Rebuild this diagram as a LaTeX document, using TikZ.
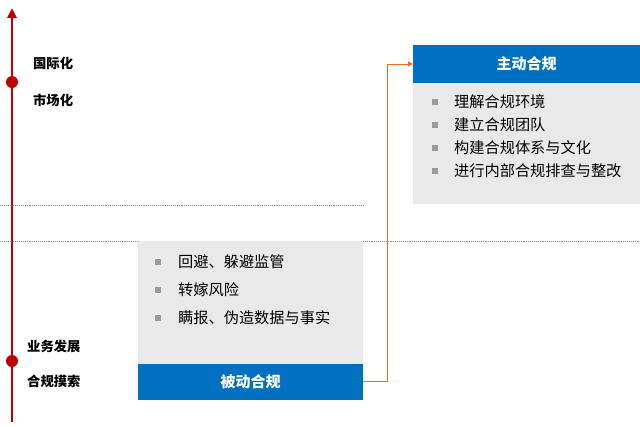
\documentclass[tikz,border=0pt]{standalone}
\usepackage{fontspec}
\setmainfont{Noto Sans CJK SC}
\usetikzlibrary{arrows.meta}
\definecolor{hdrblue}{HTML}{0070C0}
\definecolor{boxgray}{HTML}{E9E9E9}
\definecolor{axisred}{HTML}{C00000}
\definecolor{conorange}{HTML}{F26B21}
\definecolor{dotline}{HTML}{7F86C0}
\definecolor{bulletgray}{HTML}{9A9A9A}
\tikzset{
  stagelabel/.style={anchor=west, font=\fontsize{13.3}{15}\selectfont\bfseries, inner sep=0},
  bulletitem/.style={anchor=west, font=\fontsize{15.2}{17}\selectfont, inner sep=0},
  bulletsq/.style={fill=bulletgray, minimum size=5.5pt, inner sep=0},
  hdrtext/.style={font=\fontsize{15}{17}\selectfont\bfseries, text=white},
  sepline/.style={dotline, densely dotted, line width=0.9pt},
}
\begin{document}
\begin{tikzpicture}[x=1pt,y=-1pt]
\useasboundingbox (0,0) rectangle (640,426);
% axis
\coordinate (axbot) at (12,422);
\coordinate (axtop) at (12,8);
\draw[axisred, line width=2.6pt, -{Triangle[length=10pt,width=9pt]}] (axbot) -- (axtop);
\fill[axisred] (12,82) circle (6);
\fill[axisred] (12,361) circle (6);
\node[stagelabel] (l1) at (33,63) {国际化};
\node[stagelabel] (l2) at (33,100) {市场化};
\node[stagelabel] (l3) at (27,346) {业务发展};
\node[stagelabel] (l4) at (27,381) {合规摸索};
% separators
\draw[sepline] (0,205) -- (363,205);
\draw[sepline] (0,241) -- (640,241);
% bottom-left box
\fill[boxgray] (138,241) rectangle (363,364);
\fill[hdrblue] (138,364) rectangle (363,400);
\node[hdrtext] (passive) at (250.5,382) {被动合规};
\coordinate (passiveR) at (363,381);
\foreach \y/\t in {262/{回避、躲避监管},290/{转嫁风险},318/{瞒报、伪造数据与事实}}{
  \node[bulletsq] at (158,\y) {};
  \node[bulletitem] at (178,\y) {\t};
}
% top-right box
\fill[hdrblue] (413,45) rectangle (640,83);
\fill[boxgray] (413,83) rectangle (640,204);
\node[hdrtext] (active) at (526.5,64) {主动合规};
\coordinate (activeL) at (413,64);
\foreach \y/\t in {102/{理解合规环境},125/{建立合规团队},148/{构建合规体系与文化},171/{进行内部合规排查与整改}}{
  \node[bulletsq] at (435,\y) {};
  \node[bulletitem] at (454,\y) {\t};
}
% connector
\draw[conorange, line width=1pt, -{Triangle[length=5pt,width=5pt]}] (passiveR) -- (387,381) -- (387,64) -- (activeL);
\end{tikzpicture}
\end{document}
